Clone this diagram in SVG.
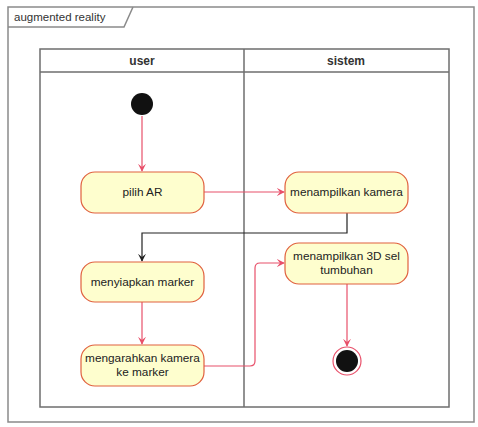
<svg xmlns="http://www.w3.org/2000/svg" width="478" height="427" viewBox="0 0 478 427">
  <defs>
    <style>
      .frame { fill: none; stroke: #8a8a8a; stroke-width: 1.5; }
      .lane { fill: none; stroke: #6e6e6e; stroke-width: 1.5; }
      .act { fill: #FEFECE; stroke: #E0603E; stroke-width: 1.2; }
      .lbl { font-family: "Liberation Sans", Arial, sans-serif; font-size: 11.8px; fill: #222; text-anchor: middle; }
      .hdr { font-family: "Liberation Sans", Arial, sans-serif; font-size: 12px; font-weight: bold; fill: #333; text-anchor: middle; }
      .tab { font-family: "Liberation Sans", Arial, sans-serif; font-size: 11.5px; fill: #333; }
      .flow { fill: none; stroke: #E8506A; stroke-width: 1.2; }
      .flowk { fill: none; stroke: #222; stroke-width: 1.2; }
    </style>
    <marker id="ah" viewBox="0 0 10 10" refX="9" refY="5" markerWidth="8" markerHeight="8" orient="auto" markerUnits="userSpaceOnUse">
      <path d="M0,0 L10,5 L0,10 L4,5 Z" fill="#E8506A"/>
    </marker>
    <marker id="ahk" viewBox="0 0 10 10" refX="9" refY="5" markerWidth="8" markerHeight="8" orient="auto" markerUnits="userSpaceOnUse">
      <path d="M0,0 L10,5 L0,10 L4,5 Z" fill="#222"/>
    </marker>
  </defs>
  <rect width="478" height="427" fill="#fff"/>

  <!-- outer frame with name tab -->
  <g id="frame">
    <rect class="frame" x="8" y="7" width="466" height="415"/>
    <path class="frame" d="M8,27 L124,27 L133,7"/>
    <text class="tab" x="14" y="21">augmented reality</text>
  </g>

  <!-- swimlanes -->
  <g id="lanes">
    <rect class="lane" x="40" y="49" width="409" height="358"/>
    <line class="lane" x1="40" y1="72" x2="449" y2="72"/>
    <line class="lane" x1="244" y1="49" x2="244" y2="407"/>
    <text class="hdr" x="142" y="65">user</text>
    <text class="hdr" x="346" y="65">sistem</text>
  </g>

  <!-- connectors -->
  <g id="connectors">
    <line class="flow" x1="142" y1="116" x2="142" y2="171" marker-end="url(#ah)"/>
    <line class="flow" x1="204" y1="192" x2="284" y2="192" marker-end="url(#ah)"/>
    <path class="flowk" d="M347,213 L347,233 L142,233 L142,261" marker-end="url(#ahk)"/>
    <line class="flow" x1="142" y1="302" x2="142" y2="344" marker-end="url(#ah)"/>
    <path class="flow" d="M204,366 L250,366 Q255,366 255,361 L255,268 Q255,263 260,263 L284,263" marker-end="url(#ah)"/>
    <line class="flow" x1="347" y1="284" x2="347" y2="346" marker-end="url(#ah)"/>
  </g>

  <g id="start">
    <circle cx="142" cy="104" r="11" fill="#111"/>
  </g>

  <g id="pilih-ar">
    <rect class="act" x="81" y="172" width="123" height="41" rx="14"/>
    <text class="lbl" x="142.5" y="196">pilih AR</text>
  </g>

  <g id="menampilkan-kamera">
    <rect class="act" x="285" y="172" width="123" height="41" rx="14"/>
    <text class="lbl" x="346.5" y="196">menampilkan kamera</text>
  </g>

  <g id="menampilkan-3d">
    <rect class="act" x="285" y="243" width="123" height="41" rx="14"/>
    <text class="lbl" x="346.5" y="260">menampilkan 3D sel</text>
    <text class="lbl" x="346.5" y="274">tumbuhan</text>
  </g>

  <g id="menyiapkan-marker">
    <rect class="act" x="81" y="262" width="123" height="40" rx="14"/>
    <text class="lbl" x="142.5" y="286">menyiapkan marker</text>
  </g>

  <g id="mengarahkan-kamera">
    <rect class="act" x="81" y="345" width="123" height="41" rx="14"/>
    <text class="lbl" x="142.5" y="362">mengarahkan kamera</text>
    <text class="lbl" x="142.5" y="376">ke marker</text>
  </g>

  <g id="end">
    <circle cx="347" cy="361" r="14" fill="#fff" stroke="#E8506A" stroke-width="1.2"/>
    <circle cx="347" cy="361" r="11" fill="#111"/>
  </g>
</svg>
